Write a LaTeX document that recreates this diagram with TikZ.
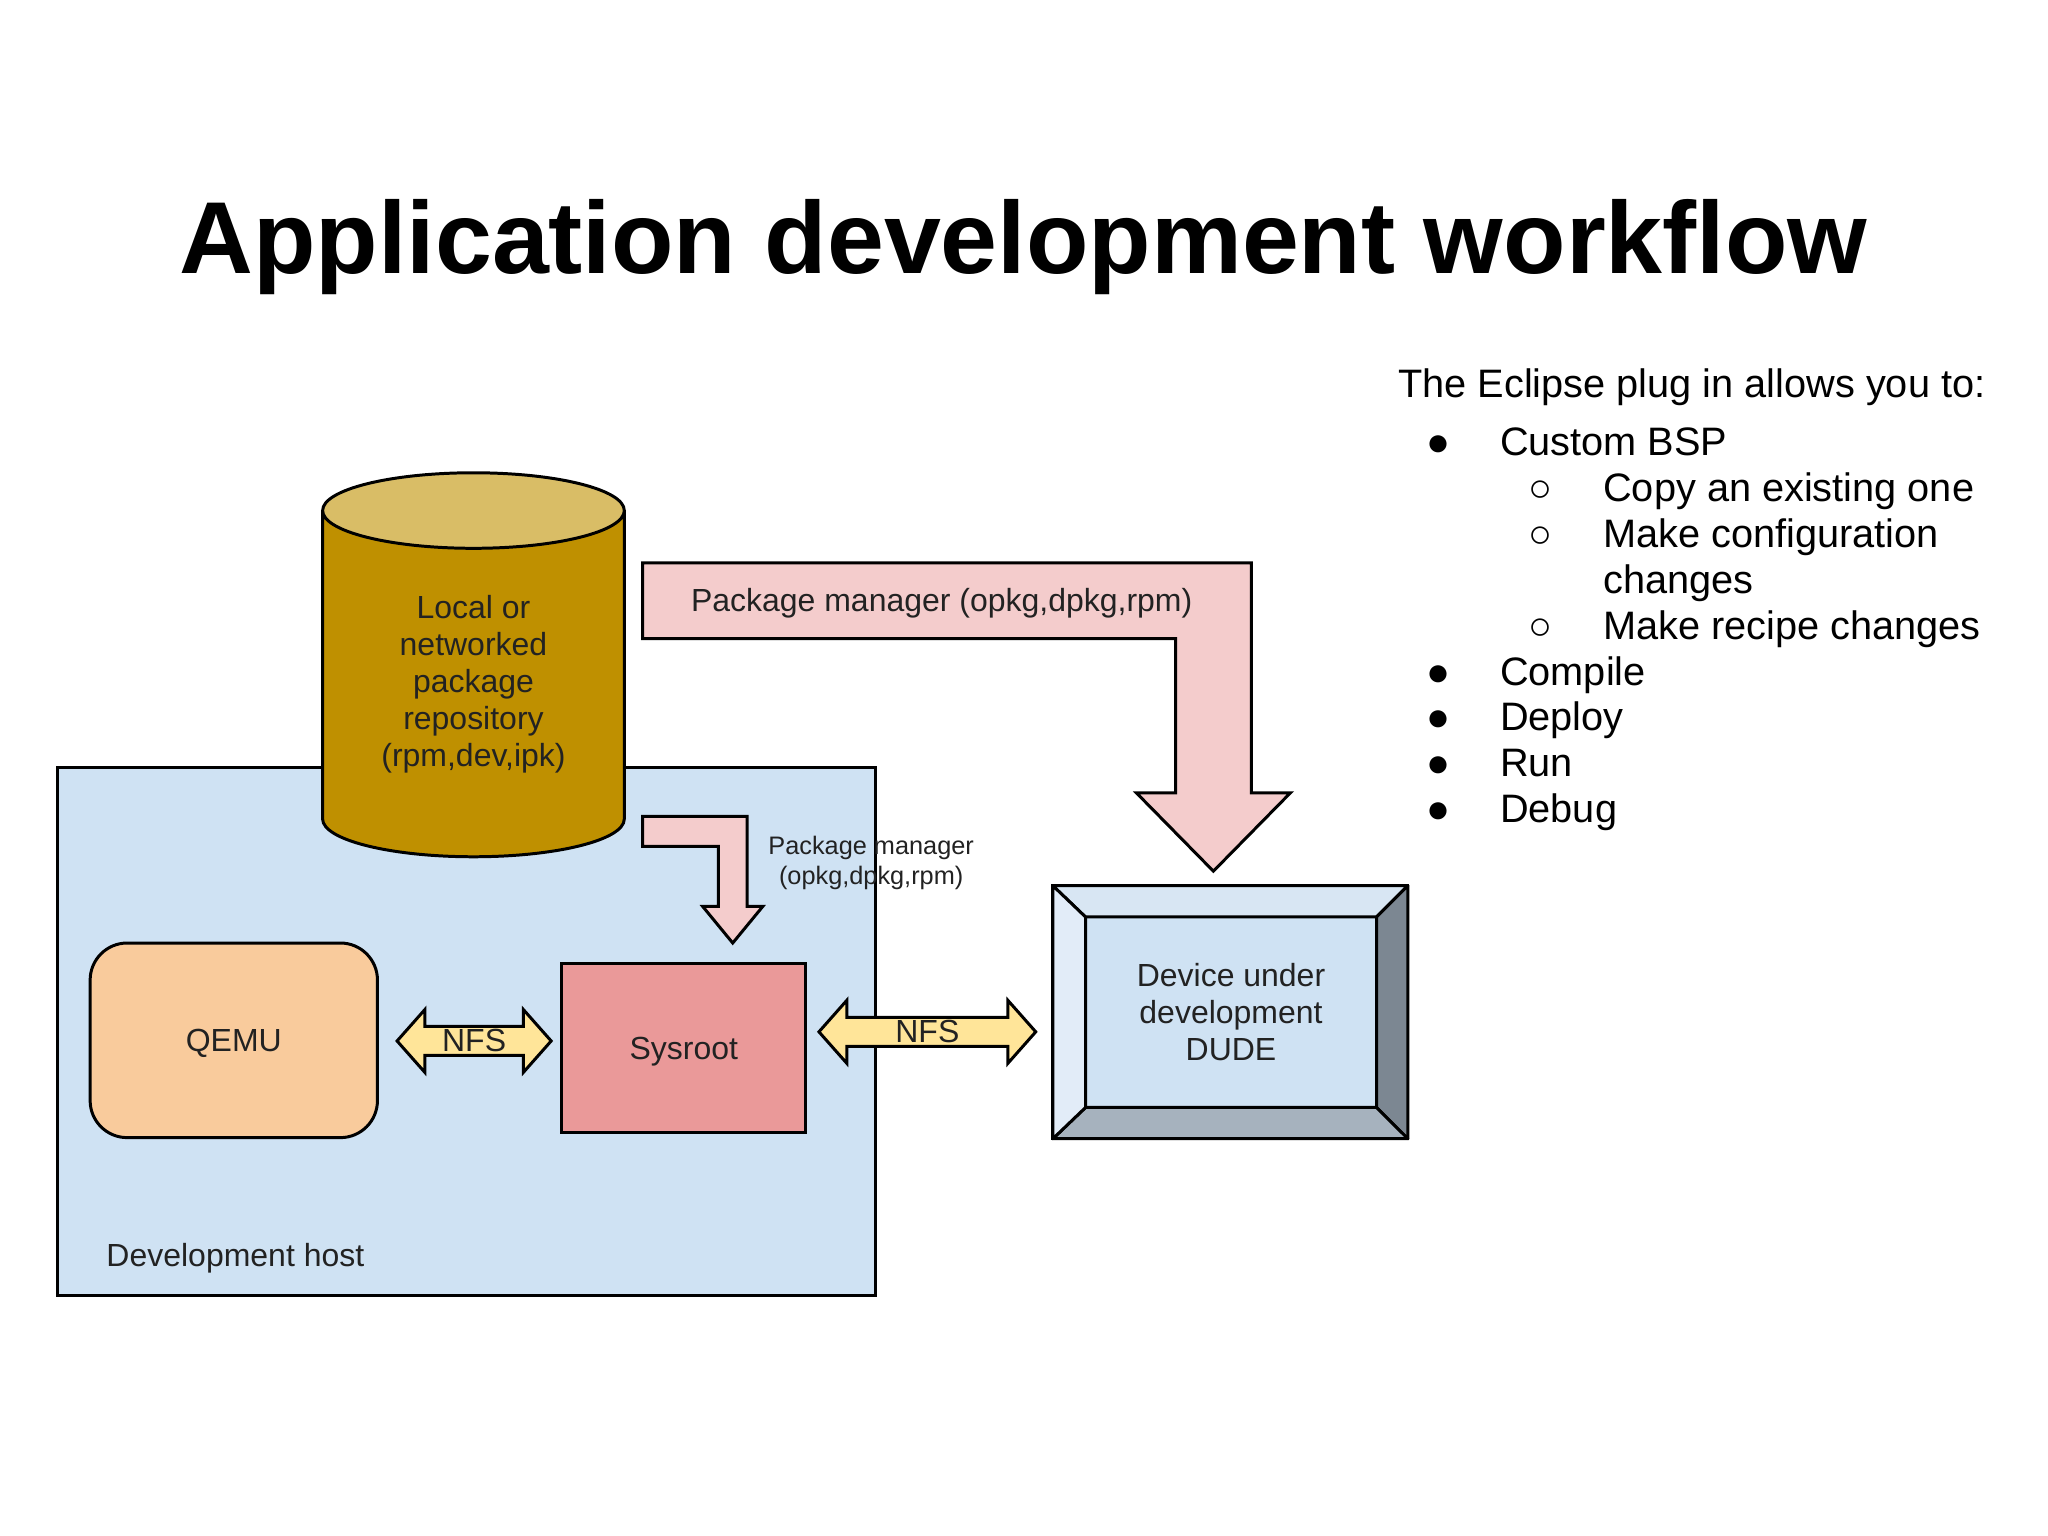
\documentclass[tikz,border=0pt]{standalone}
\usepackage{fontspec}
\setmainfont{Liberation Sans}
\usetikzlibrary{shapes.geometric,shapes.arrows,positioning,calc}
\definecolor{hostblue}{HTML}{CFE2F3}
\definecolor{repogold}{HTML}{BF9000}
\definecolor{repotop}{HTML}{D9BD66}
\definecolor{qemuorange}{HTML}{F9CB9C}
\definecolor{sysrootred}{HTML}{EA9999}
\definecolor{pkgpink}{HTML}{F4CCCC}
\definecolor{nfsyellow}{HTML}{FFE599}
\definecolor{bevelleft}{HTML}{E2ECF8}
\definecolor{beveltop}{HTML}{D8E6F3}
\definecolor{bevelright}{HTML}{7C8792}
\definecolor{bevelbottom}{HTML}{A6B2BE}
\definecolor{inktext}{HTML}{222222}
\begin{document}
\begin{tikzpicture}[
  x=0.013061cm, y=-0.013061cm,
  every node/.style={font=\fontsize{9.1}{10.5}\selectfont, text=inktext},
  outline/.style={draw=black, line width=0.85pt},
  box/.style={outline, rectangle, align=center, inner sep=0pt},
  blockarrow/.style={outline, fill=pkgpink, line join=miter},
  bevel/.style={outline, line join=round},
  nfsarrow/.style={outline, double arrow, fill=nfsyellow, inner sep=0pt,
    minimum width=0.63cm, double arrow head extend=0.15cm,
    double arrow tip angle=97},
  listline/.style={anchor=base west, inner sep=0pt, font=\fontsize{11.3}{13}\selectfont, text=black}]
\useasboundingbox (0,0) rectangle (1568,1176);
\node[font=\fontsize{29.1}{32}\bfseries\selectfont, text=black] (title) at (783.5,189)
  {Application development workflow};
\node[box, fill=hostblue, minimum width=8.176cm, minimum height=5.277cm] (host) at (357,790) {};
\node[anchor=base west, inner sep=0pt] (hostlabel) at (81,970) {Development host};
\node[outline, cylinder, shape border rotate=90, aspect=0.41, cylinder uses custom fill,
  cylinder body fill=repogold, cylinder end fill=repotop, inner sep=0pt, align=center,
  minimum width=3.017cm, minimum height=3.84cm] (repo) at (362.5,524)
  {Local or\\networked\\package\\repository\\(rpm,dev,ipk)};
\draw[blockarrow] (492,431) -- (958,431) -- (958,607) -- (988,607) -- (929,667)
  -- (870,607) -- (900,607) -- (900,489) -- (492,489) -- cycle;
\node (pkgbig) at (721,462) {Package manager (opkg,dpkg,rpm)};
\draw[blockarrow] (492,625) -- (572,625) -- (572,694) -- (584,694) -- (561,722)
  -- (538,694) -- (550,694) -- (550,648) -- (492,648) -- cycle;
\node[font=\fontsize{7.2}{8.5}\selectfont, align=center] (pkgsmall) at (667,661)
  {Package manager\\(opkg,dpkg,rpm)};
\node[box, fill=qemuorange, rounded corners=0.37cm, minimum width=2.873cm,
  minimum height=1.946cm, text depth=0pt] (qemu) at (179,796.5) {QEMU};
\node[box, fill=sysrootred, minimum width=2.442cm, minimum height=1.685cm, text depth=0pt] (sysroot)
  at (523.5,802.5) {Sysroot};
\node[nfsarrow, minimum height=1.541cm] (nfshost) at (363,797) {NFS};
\node[nfsarrow, minimum height=2.168cm] (nfsdev) at (710,790) {NFS};
\node[box, outer sep=0pt, minimum width=3.55cm, minimum height=2.53cm] (dude) at (942,775) {};
\node[box, outer sep=0pt, fill=hostblue, minimum width=2.91cm, minimum height=1.905cm, align=center]
  (dudeface) at (942.5,775) {Device under\\development\\DUDE};
\foreach \cola/\colb/\colc/\cold/\shade in {
    north west/north east/north east/north west/beveltop,
    north east/south east/south east/north east/bevelright,
    south east/south west/south west/south east/bevelbottom,
    south west/north west/north west/south west/bevelleft} {
  \draw[bevel, fill=\shade] (dude.\cola) -- (dude.\colb) -- (dudeface.\colc) -- (dudeface.\cold) -- cycle;}
\node[listline] (intro) at (1070,304) {The Eclipse plug in allows you to:};
\foreach \mark/\xpos/\txt [count=\n] in {
    ●/1092/Custom BSP, ○/1170/Copy an existing one, ○/1170/Make configuration,
    /1170/changes, ○/1170/Make recipe changes, ●/1092/Compile,
    ●/1092/Deploy, ●/1092/Run, ●/1092/Debug} {
  \node[listline] (mark\n) at (\xpos,349-35.1+35.1*\n) {\mark};
  \node[listline] (line\n) at ({\xpos+(\xpos==1092?56:57)},349-35.1+35.1*\n) {\txt};}
\end{tikzpicture}
\end{document}
